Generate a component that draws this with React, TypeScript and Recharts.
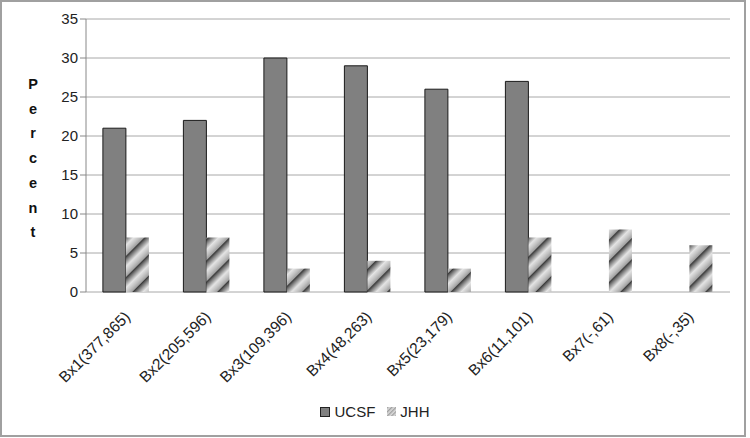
import React from 'react';
import { BarChart, Bar, XAxis, YAxis, CartesianGrid, Legend } from 'recharts';

const categories = ['Bx1(377,865)', 'Bx2(205,596)', 'Bx3(109,396)', 'Bx4(48,263)', 'Bx5(23,179)', 'Bx6(11,101)', 'Bx7(-,61)', 'Bx8(-,35)'];
const ucsfValues = [21, 22, 30, 29, 26, 27, null, null];
const jhhValues = [7, 7, 3, 4, 3, 7, 8, 6];
const yTicks = [0, 5, 10, 15, 20, 25, 30, 35];
const edgeTicks = [0, 1, 2, 3, 4, 5, 6, 7, 8];
const yTitle = 'Percent';

const data = categories.map((name, i) => ({ name, UCSF: ucsfValues[i], JHH: jhhValues[i] }));

const FONT = '"Liberation Sans", Arial, sans-serif';
const AXIS = '#888888';

const StripeDefs = ({ id }: { id: string }) => (
  <defs>
    <linearGradient id={id + 'Grad'} x1="0" y1="0" x2="1" y2="0">
      <stop offset="0" stopColor="#2e2e2e" />
      <stop offset="0.18" stopColor="#7a7a7a" />
      <stop offset="0.5" stopColor="#e4e4e4" />
      <stop offset="0.8" stopColor="#bdbdbd" />
      <stop offset="1" stopColor="#9c9c9c" />
    </linearGradient>
    <pattern id={id} patternUnits="userSpaceOnUse" width="15" height="15" patternTransform="rotate(45)">
      <rect width="15" height="15" fill={`url(#${id}Grad)`} />
    </pattern>
  </defs>
);

const YTitle = (props: any) => {
  const { viewBox } = props;
  const x = viewBox.x + 33;
  return (
    <text x={x} y={0} textAnchor="middle" fontFamily={FONT} fontSize={14.5} fontWeight="bold" fill="#111">
      {yTitle.split('').map((ch, i) => (
        <tspan key={i} x={x} y={89 + i * 24.7}>{ch}</tspan>
      ))}
    </text>
  );
};

const LegendContent = () => (
  <div style={{ display: 'flex', justifyContent: 'center', alignItems: 'center', fontFamily: FONT, fontSize: 15, color: '#222', paddingLeft: 20 }}>
    <svg width={10} height={10} style={{ marginRight: 4 }}>
      <rect x={0.5} y={0.5} width={9} height={9} fill="#808080" stroke="#222" />
    </svg>
    <span style={{ marginRight: 12 }}>UCSF</span>
    <svg width={9} height={9} style={{ marginRight: 4 }}>
      <defs>
        <pattern id="legendStripe" patternUnits="userSpaceOnUse" width="3" height="3" patternTransform="rotate(45)">
          <rect width="3" height="3" fill="#d8d8d8" />
          <rect width="1.3" height="3" fill="#a0a0a0" />
        </pattern>
      </defs>
      <rect width={9} height={9} fill="url(#legendStripe)" />
    </svg>
    <span>JHH</span>
  </div>
);

export default function App() {
  return (
    <div style={{ position: 'absolute', left: 0, top: 0, width: 750, height: 438, background: '#fff' }}>
      <BarChart width={750} height={438} data={data} margin={{ top: 19, right: 20, left: 0, bottom: 13 }} barGap={0} barCategoryGap="21%">
        <StripeDefs id="jhhStripe" />
        <CartesianGrid xAxisId="cat" vertical={false} stroke="#a8a8a8" />
        <XAxis
          xAxisId="edges"
          type="number"
          domain={[0, 8]}
          ticks={edgeTicks}
          tick={false}
          tickSize={6}
          height={0}
          axisLine={{ stroke: AXIS }}
          tickLine={{ stroke: AXIS }}
          allowDataOverflow
        />
        <XAxis
          xAxisId="cat"
          dataKey="name"
          interval={0}
          height={111}
          axisLine={false}
          tickLine={false}
          tickMargin={12}
          angle={-45}
          textAnchor="end"
          tick={{ fontFamily: FONT, fontSize: 15.5, fill: '#222', dx: -3 }}
        />
        <YAxis
          width={86}
          domain={[0, 35]}
          ticks={yTicks}
          tickSize={6}
          axisLine={{ stroke: AXIS }}
          tickLine={{ stroke: AXIS }}
          tick={{ fontFamily: FONT, fontSize: 15, fill: '#222' }}
          label={{ content: YTitle }}
        />
        <Legend verticalAlign="bottom" height={22} content={LegendContent} />
        <Bar xAxisId="cat" dataKey="UCSF" fill="#808080" stroke="#1a1a1a" strokeWidth={1} isAnimationActive={false} />
        <Bar xAxisId="cat" dataKey="JHH" fill="url(#jhhStripe)" isAnimationActive={false} />
      </BarChart>
      <div style={{ position: 'absolute', left: 0, top: 0, width: 746, height: 437, boxSizing: 'border-box', border: '2px solid #a0a0a0', pointerEvents: 'none' }} />
    </div>
  );
}
